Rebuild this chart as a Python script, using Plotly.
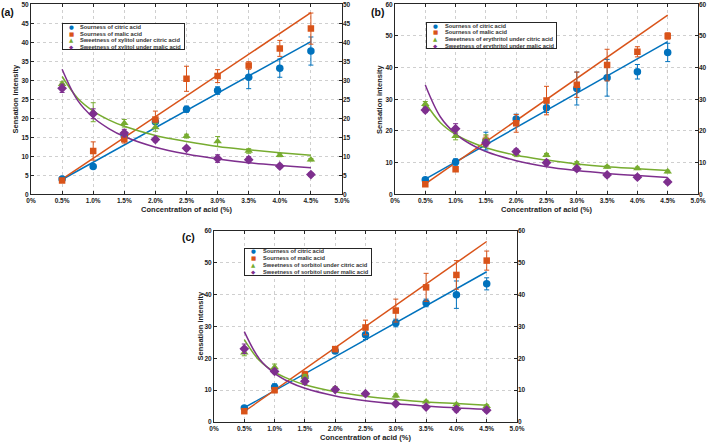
import plotly.graph_objects as go

W, H = 709, 442

# ---------------- data ----------------
conc = [0.5, 1.0, 1.5, 2.0, 2.5, 3.0, 3.5, 4.0, 4.5]
fit_x = [0.5, 4.5]
curve_x = [0.5, 0.75, 1.0, 1.25, 1.5, 2.0, 2.5, 3.0, 3.5, 4.0, 4.5]

x_tick_vals = [0, 0.5, 1.0, 1.5, 2.0, 2.5, 3.0, 3.5, 4.0, 4.5, 5.0]
x_tick_text = ["0%", "0.5%", "1.0%", "1.5%", "2.0%", "2.5%", "3.0%", "3.5%", "4.0%", "4.5%", "5.0%"]

# panel (a) – xylitol
a_citric = [4.0, 7.3, 15.2, 19.1, 22.4, 27.3, 30.8, 33.2, 37.7]
a_citric_err = [0.4, 0.4, 1.0, 0.6, 0.8, 1.0, 3.0, 2.4, 3.7]
a_malic = [3.6, 11.4, 14.5, 19.7, 30.4, 31.1, 33.9, 38.4, 43.6]
a_malic_err = [0.4, 2.4, 1.0, 2.2, 3.3, 1.7, 1.0, 2.1, 4.1]
a_sweet_cit = [29.0, 21.6, 18.7, 17.6, 15.3, 13.9, 11.4, 10.3, 9.1]
a_sweet_cit_err = [0.6, 2.5, 1.0, 1.0, 0.5, 1.3, 0.6, 0.4, 0.3]
a_sweet_mal = [27.9, 21.2, 16.1, 14.4, 12.1, 9.4, 9.1, 7.4, 5.2]
a_sweet_mal_err = [1.1, 1.3, 1.0, 0.6, 0.5, 1.0, 0.8, 0.5, 0.5]
a_fit_citric = [3.9, 40.2]
a_fit_malic = [4.0, 47.8]
a_curve_cit = [31.0, 25.3, 21.9, 19.6, 17.9, 15.5, 13.9, 12.6, 11.7, 10.95, 10.3]
a_curve_mal = [32.9, 24.7, 20.2, 17.3, 15.2, 12.4, 10.6, 9.3, 8.3, 7.6, 7.0]
a_labels = ["Sourness of citric acid", "Sourness of malic acid",
            "Sweetness of xylitol under citric acid", "Sweetness of xylitol under malic acid"]

# panel (b) – erythritol
b_citric = [4.6, 10.2, 16.8, 23.8, 27.3, 33.4, 36.8, 38.7, 44.8]
b_citric_err = [0.6, 1.0, 2.8, 1.5, 1.5, 5.2, 5.8, 2.3, 2.9]
b_malic = [3.2, 7.9, 16.9, 22.4, 29.6, 34.6, 40.8, 45.0, 50.0]
b_malic_err = [0.5, 0.6, 1.5, 2.8, 4.5, 4.0, 5.0, 1.6, 1.0]
b_sweet_cit = [28.5, 18.4, 17.3, 12.7, 12.4, 9.8, 8.7, 8.2, 7.2]
b_sweet_cit_err = [0.8, 1.2, 1.5, 0.8, 0.5, 0.5, 0.4, 0.4, 0.4]
b_sweet_mal = [26.6, 20.7, 16.2, 13.5, 10.0, 8.1, 6.1, 5.4, 3.9]
b_sweet_mal_err = [0.8, 1.6, 1.0, 0.8, 0.8, 0.7, 0.6, 0.7, 0.6]
b_fit_citric = [4.8, 48.2]
b_fit_malic = [3.3, 56.6]
b_curve_cit = [28.9, 22.6, 18.9, 16.5, 14.7, 12.3, 10.8, 9.6, 8.7, 8.1, 7.5]
b_curve_mal = [34.5, 24.4, 19.1, 15.8, 13.5, 10.6, 8.7, 7.5, 6.6, 5.9, 5.3]
b_labels = ["Sourness of citric acid", "Sourness of malic acid",
            "Sweetness of erythritol under citric acid", "Sweetness of erythritol under malic acid"]

# panel (c) – sorbitol
c_citric = [4.4, 11.0, 14.2, 22.3, 27.4, 31.1, 37.4, 40.0, 43.4]
c_citric_err = [0.5, 1.0, 0.8, 0.8, 1.5, 1.2, 1.2, 4.3, 1.9]
c_malic = [3.4, 10.0, 14.9, 22.9, 29.7, 35.0, 42.3, 46.2, 50.7]
c_malic_err = [0.5, 0.8, 1.0, 0.8, 2.3, 3.6, 4.4, 4.5, 3.0]
c_sweet_cit = [21.8, 17.2, 14.2, 10.5, 9.0, 8.3, 6.4, 5.5, 5.0]
c_sweet_cit_err = [1.0, 1.0, 0.7, 0.6, 0.4, 0.5, 0.4, 0.4, 0.4]
c_sweet_mal = [23.0, 15.9, 12.8, 10.2, 8.9, 5.7, 4.7, 4.0, 3.7]
c_sweet_mal_err = [1.5, 0.7, 1.0, 0.6, 0.5, 0.5, 0.5, 0.8, 0.6]
c_fit_citric = [4.5, 47.2]
c_fit_malic = [3.3, 56.7]
c_curve_cit = [25.9, 19.3, 15.7, 13.4, 11.7, 9.5, 8.1, 7.1, 6.3, 5.8, 5.3]
c_curve_mal = [28.4, 19.8, 15.3, 12.5, 10.6, 8.2, 6.7, 5.7, 5.0, 4.4, 4.0]
c_labels = ["Sourness of citric acid", "Sourness of malic acid",
            "Sweetness of sorbitol under citric acid", "Sweetness of sorbitol under malic acid"]

panel_tags = ["(a)", "(b)", "(c)"]
y_title = "Sensation intensity"
x_title = "Concentration of acid (%)"
y_max = [50, 60, 60]
y_dtick = [5, 10, 10]

# ---------------- style ----------------
COLORS = ["#0072BD", "#D95319", "#77AC30", "#7E2F8E"]
SYMBOLS = ["circle", "square", "triangle-up", "diamond"]
MSIZE = [7.5, 6.5, 7.5, 7.5]
GLYPHS = ["\u25CF", "\u25A0", "\u25B2", "\u25C6"]
FONT = "Liberation Sans, Arial, sans-serif"
TXT = "#222222"

# pixel boxes of plot areas: (left, top, right, bottom)
boxes = [(31, 4.3, 342, 194.3), (395, 4.3, 698, 194.3), (214, 231, 517, 422)]
legend_boxes = [(61.5, 23.3, 184, 50.7), (426, 22.3, 557, 49.3), (244.3, 247.7, 372.3, 276)]
tag_pos = [(7, 12), (378, 12), (189, 237)]
ytitle_pos = [(15.5, 99), (380, 99), (199.5, 326)]


def px(x):
    return x / W


def py(y):
    return 1 - y / H


panels = [
    dict(series=[(a_citric, a_citric_err), (a_malic, a_malic_err),
                 (a_sweet_cit, a_sweet_cit_err), (a_sweet_mal, a_sweet_mal_err)],
         fits=[a_fit_citric, a_fit_malic], curves=[a_curve_cit, a_curve_mal], labels=a_labels),
    dict(series=[(b_citric, b_citric_err), (b_malic, b_malic_err),
                 (b_sweet_cit, b_sweet_cit_err), (b_sweet_mal, b_sweet_mal_err)],
         fits=[b_fit_citric, b_fit_malic], curves=[b_curve_cit, b_curve_mal], labels=b_labels),
    dict(series=[(c_citric, c_citric_err), (c_malic, c_malic_err),
                 (c_sweet_cit, c_sweet_cit_err), (c_sweet_mal, c_sweet_mal_err)],
         fits=[c_fit_citric, c_fit_malic], curves=[c_curve_cit, c_curve_mal], labels=c_labels),
]

fig = go.Figure()
annotations = []

for i, p in enumerate(panels):
    n = "" if i == 0 else str(i + 1)
    xa, ya = "x" + n, "y" + n
    yr = "y" + str(i + 4)
    # fitted lines
    for k, f in enumerate(p["fits"]):
        fig.add_trace(go.Scatter(x=fit_x, y=f, mode="lines", xaxis=xa, yaxis=ya,
                                 line=dict(color=COLORS[k], width=1.5),
                                 showlegend=False, hoverinfo="skip"))
    for k, c in enumerate(p["curves"]):
        fig.add_trace(go.Scatter(x=curve_x, y=c, mode="lines", xaxis=xa, yaxis=ya,
                                 line=dict(color=COLORS[k + 2], width=1.5, shape="spline"),
                                 showlegend=False, hoverinfo="skip"))
    # data points
    for k, (vals, errs) in enumerate(p["series"]):
        fig.add_trace(go.Scatter(x=conc, y=vals, mode="markers", xaxis=xa, yaxis=ya,
                                 name=p["labels"][k],
                                 marker=dict(color=COLORS[k], symbol=SYMBOLS[k], size=MSIZE[k],
                                             line=dict(width=0)),
                                 error_y=dict(type="data", array=errs, color=COLORS[k],
                                              thickness=1, width=2.5),
                                 showlegend=False))
    # empty trace for right-hand axis
    fig.add_trace(go.Scatter(x=[], y=[], xaxis=xa, yaxis=yr, showlegend=False, hoverinfo="skip"))

    l, t, r, b = boxes[i]
    axis_common = dict(showline=True, linecolor="#262626", linewidth=1, mirror="ticks",
                       ticks="inside", ticklen=3, tickcolor="#262626",
                       showgrid=True, gridcolor="#cfcfcf", griddash="dot", gridwidth=1,
                       zeroline=False, automargin=False,
                       tickfont=dict(family=FONT, size=6.5, color=TXT, weight="bold"))
    fig.layout["xaxis" + n] = dict(
        axis_common, domain=[px(l), px(r)], anchor=ya, range=[0, 5],
        tickmode="array", tickvals=x_tick_vals, ticktext=x_tick_text,
        title=dict(text=x_title, standoff=3,
                   font=dict(family=FONT, size=7.5, color=TXT, weight="bold")))
    fig.layout["yaxis" + n] = dict(
        axis_common, domain=[py(b), py(t)], anchor=xa, range=[0, y_max[i]], dtick=y_dtick[i])
    fig.layout["yaxis" + str(i + 4)] = dict(
        overlaying=ya, anchor=xa, side="right", range=[0, y_max[i]], dtick=y_dtick[i],
        showgrid=False, zeroline=False, showline=False, ticks="", automargin=False,
        tickfont=dict(family=FONT, size=6.5, color=TXT, weight="bold"))

    # y-axis title
    yx, yy0 = ytitle_pos[i]
    annotations.append(dict(text=y_title, x=px(yx), y=py(yy0), xref="paper", yref="paper",
                            showarrow=False, textangle=-90, xanchor="center", yanchor="middle",
                            font=dict(family=FONT, size=7.5, color=TXT, weight="bold")))

    # panel tag
    tx, ty = tag_pos[i]
    annotations.append(dict(text=panel_tags[i], x=px(tx), y=py(ty), xref="paper", yref="paper",
                            showarrow=False, xanchor="center", yanchor="middle",
                            font=dict(family=FONT, size=10.5, color="#111111", weight="bold")))

    # legend box (manual, compact like the original)
    lx0, ly0, lx1, ly1 = legend_boxes[i]
    annotations.append(dict(text=" ", x=px(lx0), y=py(ly0), xref="paper", yref="paper",
                            showarrow=False, xanchor="left", yanchor="top",
                            width=lx1 - lx0 - 2, height=ly1 - ly0 - 2, borderpad=0,
                            bordercolor="#262626", borderwidth=1, bgcolor="white",
                            font=dict(size=1)))
    row_h = (ly1 - ly0) / 4
    for k in range(4):
        yy = ly0 + row_h * (k + 0.5)
        annotations.append(dict(text=GLYPHS[k], x=px(lx0 + 9.5), y=py(yy),
                                xref="paper", yref="paper", showarrow=False,
                                xanchor="center", yanchor="middle", borderpad=0,
                                font=dict(family="DejaVu Sans", size=5.5, color=COLORS[k])))
        annotations.append(dict(text=p["labels"][k], x=px(lx0 + 17.5), y=py(yy),
                                xref="paper", yref="paper", showarrow=False,
                                xanchor="left", yanchor="middle", borderpad=0,
                                font=dict(family=FONT, size=5.7, color="#333333", weight="bold")))

fig.update_layout(width=W, height=H, margin=dict(l=0, r=0, t=0, b=0),
                  paper_bgcolor="white", plot_bgcolor="white",
                  showlegend=False, annotations=annotations)

fig.write_html("out.html")
